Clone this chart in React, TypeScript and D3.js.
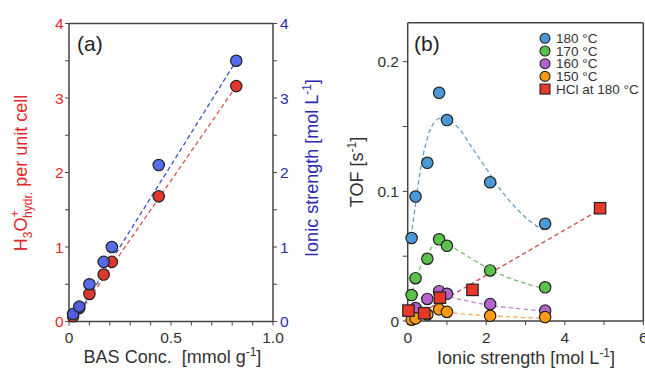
import React from "react";
import * as d3 from "d3";

// Panel (a)
const basConc = [0.02, 0.05, 0.1, 0.17, 0.21, 0.44, 0.82];
const h3oPerCell = [0.07, 0.18, 0.37, 0.63, 0.8, 1.68, 3.16];
const ionicA = [0.1, 0.2, 0.5, 0.8, 1.0, 2.1, 3.5];
const fitRedX = [0.035, 0.82];
const fitRedY = [0.05, 3.16];
const fitBlueX = [0.035, 0.82];
const fitBlueY = [0.06, 3.5];

// Panel (b)
const ionicB = [0.1, 0.2, 0.5, 0.8, 1.0, 2.1, 3.5];
const tof180 = [0.064, 0.096, 0.122, 0.176, 0.155, 0.107, 0.075];
const tof170 = [0.02, 0.033, 0.048, 0.063, 0.058, 0.039, 0.026];
const tof160 = [0.006, 0.01, 0.017, 0.023, 0.021, 0.013, 0.008];
const tof150 = [0.001, 0.002, 0.005, 0.009, 0.007, 0.004, 0.003];
const hclX = [0.02, 0.42, 0.82, 1.65, 4.9];
const hclY = [0.008, 0.006, 0.018, 0.024, 0.087];

const curve180X = [0.084, 0.19, 0.31, 0.44, 0.61, 0.78, 0.99, 1.29, 1.63, 1.97, 2.31, 2.65, 3.07, 3.45];
const curve180Y = [0.065, 0.088, 0.114, 0.134, 0.15, 0.156, 0.156, 0.149, 0.134, 0.119, 0.1036, 0.0908, 0.078, 0.07];
const curve170X = [0.12, 0.31, 0.52, 0.78, 1.03, 1.63, 2.14, 2.73, 3.45];
const curve170Y = [0.0226, 0.0406, 0.053, 0.061, 0.0586, 0.048, 0.039, 0.0316, 0.025];
const curve160X = [0.19, 0.5, 0.78, 1.03, 2.05, 3.45];
const curve160Y = [0.011, 0.017, 0.02, 0.0187, 0.0123, 0.0077];
const curve150X = [0.23, 0.5, 0.78, 1.03, 2.05, 3.45];
const curve150Y = [0.0046, 0.007, 0.0085, 0.0067, 0.0041, 0.0021];
const fitHclX = [0.1, 4.9];
const fitHclY = [0.002, 0.086];

const legendLabels = ["180 °C", "170 °C", "160 °C", "150 °C", "HCl at 180 °C"];

const FONT = "'Liberation Sans', Arial, sans-serif";

export default function App() {
  const ax = d3.scaleLinear().domain([0, 1]).range([69, 273]);
  const ayL = d3.scaleLinear().domain([0, 4]).range([321.5, 23.5]);
  const ayR = d3.scaleLinear().domain([0, 4]).range([321.5, 23.5]);
  const bx = d3.scaleLinear().domain([0, 6]).range([407.7, 643.3]);
  const by = d3.scaleLinear().domain([0, 0.23]).range([321, 22.8]);

  const lineA = (xs: number[], ys: number[], sy: d3.ScaleLinear<number, number>) =>
    d3.line<number>().x((_, i) => ax(xs[i])).y((_, i) => sy(ys[i]))(xs) || "";
  const curveB = (xs: number[], ys: number[]) =>
    d3.line<number>().curve(d3.curveCatmullRom.alpha(0.5)).x((_, i) => bx(xs[i])).y((_, i) => by(ys[i]))(xs) || "";
  const lineB = (xs: number[], ys: number[]) =>
    d3.line<number>().x((_, i) => bx(xs[i])).y((_, i) => by(ys[i]))(xs) || "";

  const axisCol = "#444";
  const redA = "#e0382c";
  const blueA = "#4660ea";
  const redLbl = "#e02a2a";
  const blueLbl = "#2b2bb0";

  const seriesB = [
    { y: tof180, fill: "#4a98d6", line: "#6c9ec8", cx: curve180X, cy: curve180Y },
    { y: tof170, fill: "#5cc04c", line: "#78c070", cx: curve170X, cy: curve170Y },
    { y: tof160, fill: "#b264cc", line: "#c088d2", cx: curve160X, cy: curve160Y },
    { y: tof150, fill: "#ff9a12", line: "#eeb35a", cx: curve150X, cy: curve150Y },
  ];
  const hclFill = "#e8382a";

  const aMinor = d3.range(0, 1.0001, 0.1);
  const aMajor = [0, 0.5, 1.0];
  const aYTicks = d3.range(0, 4.0001, 0.5);
  const bYTicks = d3.range(0, 0.2001, 0.05);
  const bXTicks = d3.range(0, 6.0001, 1);

  const tickFs = 15.5;
  const titleFs = 18;

  return (
    <svg width={645} height={368} style={{ position: "absolute", left: 0, top: 0, background: "#fff" }} fontFamily={FONT}>
      <rect width={645} height={368} fill="#fff" />
      {/* ===== Panel a ===== */}
      <g>
        <line x1={ax(0)} x2={ax(1)} y1={ayL(4)} y2={ayL(4)} stroke={axisCol} strokeWidth={1.5} />
        <line x1={ax(0)} x2={ax(1)} y1={ayL(0)} y2={ayL(0)} stroke={axisCol} strokeWidth={1.5} />
        <line x1={ax(0)} x2={ax(0)} y1={ayL(0)} y2={ayL(4)} stroke={axisCol} strokeWidth={1.5} />
        <line x1={ax(1)} x2={ax(1)} y1={ayL(0)} y2={ayL(4)} stroke={axisCol} strokeWidth={1.5} />
        {aMinor.map((t, i) => (
          <line key={"axm" + i} x1={ax(t)} x2={ax(t)} y1={ayL(0)} y2={ayL(0) + 4} stroke={axisCol} strokeWidth={1} />
        ))}
        {aMajor.map((t, i) => (
          <text key={"axl" + i} x={ax(t)} y={343} fontSize={tickFs} textAnchor="middle" fill="#333">
            {t === 0 ? "0" : t.toFixed(1)}
          </text>
        ))}
        {aYTicks.map((t, i) => (
          <g key={"ayt" + i}>
            <line x1={ax(0) - 4} x2={ax(0)} y1={ayL(t)} y2={ayL(t)} stroke={axisCol} strokeWidth={1} />
            <line x1={ax(1)} x2={ax(1) + 4} y1={ayR(t)} y2={ayR(t)} stroke={axisCol} strokeWidth={1} />
          </g>
        ))}
        {d3.range(0, 5).map((t) => (
          <g key={"ayl" + t}>
            <text x={63.5} y={ayL(t) + 5.5} fontSize={tickFs} textAnchor="end" fill={redLbl}>{t}</text>
            <text x={280} y={ayR(t) + 5.5} fontSize={tickFs} textAnchor="start" fill={blueLbl}>{t}</text>
          </g>
        ))}
        <text x={77} y={51} fontSize={21} fill="#222">(a)</text>
        <path d={lineA(fitRedX, fitRedY, ayL)} fill="none" stroke="#d05a50" strokeWidth={1.3} strokeDasharray="4.5,3" />
        <path d={lineA(fitBlueX, fitBlueY, ayR)} fill="none" stroke="#3a52c8" strokeWidth={1.3} strokeDasharray="4.5,3" />
        {basConc.map((v, i) => (
          <circle key={"ra" + i} cx={ax(v)} cy={ayL(h3oPerCell[i])} r={5.7} fill={redA} stroke="#222" strokeWidth={1.2} />
        ))}
        {basConc.map((v, i) => (
          <circle key={"ba" + i} cx={ax(v)} cy={ayR(ionicA[i])} r={5.7} fill={blueA} stroke="#222" strokeWidth={1.2} fillOpacity={0.92} />
        ))}
        <text x={172.5} y={363} fontSize={titleFs} textAnchor="middle" fill="#333" xmlSpace="preserve">
          BAS Conc.{"  "}[mmol g<tspan dy={-7} fontSize={12}>-1</tspan><tspan dy={7}>]</tspan>
        </text>
        <text transform={`translate(27,173) rotate(-90)`} fontSize={titleFs} textAnchor="middle" fill={redLbl}>
          H<tspan dy={4.5} fontSize={12}>3</tspan><tspan dy={-4.5}>O</tspan>
          <tspan dy={-8} fontSize={13}>+</tspan>
          <tspan dx={-8} dy={12.5} fontSize={12}>hydr.</tspan>
          <tspan dy={-4.5}> per unit cell</tspan>
        </text>
        <text transform={`translate(318,168) rotate(-90)`} fontSize={titleFs} textAnchor="middle" fill={blueLbl}>
          Ionic strength [mol L<tspan dy={-7} fontSize={12}>-1</tspan><tspan dy={7}>]</tspan>
        </text>
      </g>

      {/* ===== Panel b ===== */}
      <g>
        <line x1={bx(0)} x2={bx(6)} y1={by(0.23)} y2={by(0.23)} stroke={axisCol} strokeWidth={1.5} />
        <line x1={bx(0)} x2={bx(6)} y1={by(0)} y2={by(0)} stroke={axisCol} strokeWidth={1.5} />
        <line x1={bx(0)} x2={bx(0)} y1={by(0)} y2={by(0.23)} stroke={axisCol} strokeWidth={1.5} />
        <line x1={bx(6)} x2={bx(6)} y1={by(0)} y2={by(0.23)} stroke={axisCol} strokeWidth={1.5} />
        {bXTicks.map((t, i) => (
          <line key={"bxt" + i} x1={bx(t)} x2={bx(t)} y1={by(0)} y2={by(0) + 4} stroke={axisCol} strokeWidth={1} />
        ))}
        {[0, 2, 4, 6].map((t) => (
          <text key={"bxl" + t} x={bx(t)} y={343} fontSize={tickFs} textAnchor="middle" fill="#333">{t}</text>
        ))}
        {bYTicks.map((t, i) => (
          <line key={"byt" + i} x1={bx(0) - 5} x2={bx(0)} y1={by(t)} y2={by(t)} stroke={axisCol} strokeWidth={1} />
        ))}
        {[0, 0.1, 0.2].map((t) => (
          <text key={"byl" + t} x={399} y={by(t) + 5.5} fontSize={tickFs} textAnchor="end" fill="#333">
            {t === 0 ? "0" : t.toFixed(1)}
          </text>
        ))}
        <text x={414} y={51} fontSize={21} fill="#222">(b)</text>
        {seriesB.map((s, k) => (
          <path key={"cb" + k} d={curveB(s.cx, s.cy)} fill="none" stroke={s.line} strokeWidth={1.3} strokeDasharray="4.5,3" />
        ))}
        <path d={lineB(fitHclX, fitHclY)} fill="none" stroke="#d05a50" strokeWidth={1.3} strokeDasharray="4.5,3" />
        {seriesB.map((s, k) => (
          <g key={"pb" + k}>
            {ionicB.map((v, i) => (
              <circle key={i} cx={bx(v)} cy={by(s.y[i])} r={5.7} fill={s.fill} stroke="#222" strokeWidth={1.2} />
            ))}
          </g>
        ))}
        {hclX.map((v, i) => (
          <rect key={"hcl" + i} x={bx(v) - 5.7} y={by(hclY[i]) - 5.7} width={11.4} height={11.4} fill={hclFill} stroke="#222" strokeWidth={1.2} />
        ))}
        {legendLabels.map((lab, i) => {
          const yy = 38.3 + i * 12.7;
          return (
            <g key={"lg" + i}>
              {i < 4 ? (
                <circle cx={545} cy={yy} r={5} fill={seriesB[i].fill} stroke="#222" strokeWidth={1.1} />
              ) : (
                <rect x={540} y={yy - 5} width={10} height={10} fill={hclFill} stroke="#222" strokeWidth={1.1} />
              )}
              <text x={556} y={yy + 4.5} fontSize={13.5} fill="#333">{lab}</text>
            </g>
          );
        })}
        <text x={526} y={364} fontSize={titleFs} textAnchor="middle" fill="#333">
          Ionic strength [mol L<tspan dy={-7} fontSize={12}>-1</tspan><tspan dy={7}>]</tspan>
        </text>
        <text transform={`translate(363,172) rotate(-90)`} fontSize={titleFs} textAnchor="middle" fill="#333">
          TOF [s<tspan dy={-7} fontSize={12}>-1</tspan><tspan dy={7}>]</tspan>
        </text>
      </g>
    </svg>
  );
}
